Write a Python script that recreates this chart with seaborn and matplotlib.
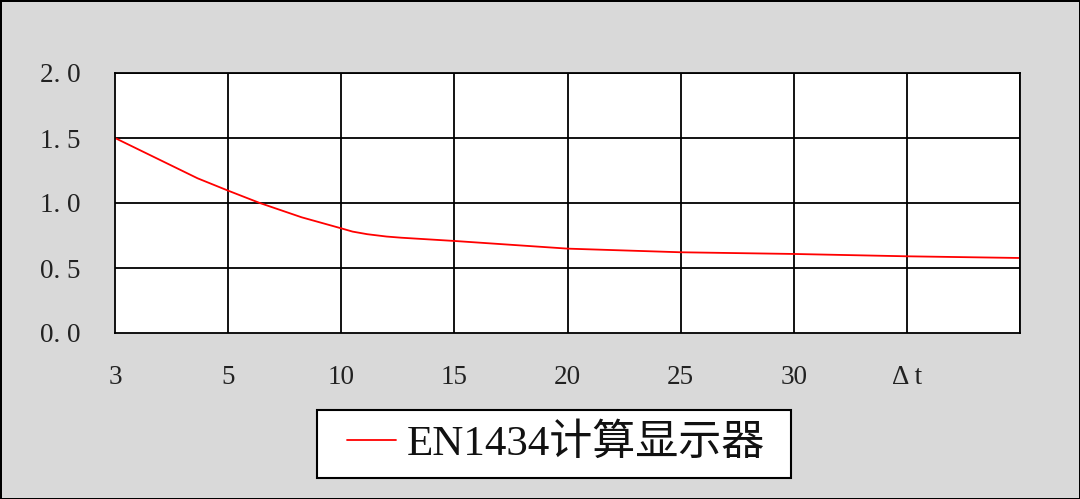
import matplotlib
matplotlib.use("Agg")
import matplotlib.pyplot as plt
from matplotlib.patches import Rectangle
import seaborn as sns
import pandas as pd

# category labels along x (gridlines sit on each category, last one closes the frame)
x_labels = ['3', '5', '10', '15', '20', '25', '30', 'Δ t']
y_ticks = [0.0, 0.5, 1.0, 1.5, 2.0]

# curve (x in category units)
x_pos = [0.0, 0.73, 1.0, 1.28, 1.65, 2.0, 2.1, 2.23, 2.4, 2.53, 3.0, 4.0, 5.0, 6.0, 7.0, 8.0]
values = [1.50, 1.19, 1.095, 1.00, 0.89, 0.805, 0.78, 0.76, 0.742, 0.733, 0.708, 0.649, 0.621, 0.608, 0.590, 0.577]
series_name = 'EN1434计算显示器'

sns.set_style('white')
plt.rcParams['font.family'] = ['Liberation Serif', 'Noto Sans CJK SC', 'DejaVu Sans']

df = pd.DataFrame({'x': x_pos, 'y': values, 'series': series_name})

fig = plt.figure(figsize=(10.8, 4.99), dpi=100)
fig.patch.set_facecolor('#D9D9D9')
fig.patch.set_edgecolor('black')
fig.patch.set_linewidth(2)
ax = fig.add_axes([115 / 1080, 1 - 333 / 499, (1020 - 115) / 1080, (333 - 73) / 499])
ax.set_facecolor('white')

sns.lineplot(data=df, x='x', y='y', hue='series', palette=['#FF0000'],
             linewidth=1.3, ax=ax, legend=True)

ax.set_xlim(0, 8)
ax.set_ylim(0, 2.0)
ax.set_xticks(range(len(x_labels)))
ax.set_xticklabels(x_labels)
ax.set_yticks(y_ticks)
ax.set_yticklabels([f'{v:.1f}'.replace('.', '. ') for v in y_ticks])
for xv in range(1, 9):
    ax.axvline(xv, color='black', linewidth=1.3, zorder=1)
for yv in y_ticks[1:]:
    ax.axhline(yv, color='black', linewidth=1.3, zorder=1)
for s in ax.spines.values():
    s.set_color('black')
    s.set_linewidth(1.3)
ax.tick_params(axis='both', length=0, labelsize=19.5, colors='#222222')
ax.tick_params(axis='y', pad=25)
ax.tick_params(axis='x', pad=23)
ax.set_xlabel('')
ax.set_ylabel('')

# legend box drawn as a fixed frame, entry centred inside
fig.add_artist(Rectangle((317 / 1080, 1 - 478 / 499), 474 / 1080, 68 / 499,
                         transform=fig.transFigure, facecolor='white',
                         edgecolor='black', linewidth=1.5, zorder=2))
handles, labels = ax.get_legend_handles_labels()
ax.get_legend().remove()
leg = fig.legend(handles, labels, loc='center', bbox_to_anchor=(556 / 1080, 1 - 444 / 499),
                 fontsize=31, frameon=False, handlelength=1.15, handletextpad=0.25,
                 borderpad=0.2)
leg.set_zorder(3)
for t in leg.get_texts():
    t.set_color('#111111')

fig.savefig('out.png', dpi=100, facecolor=fig.get_facecolor(), edgecolor=fig.patch.get_edgecolor())
